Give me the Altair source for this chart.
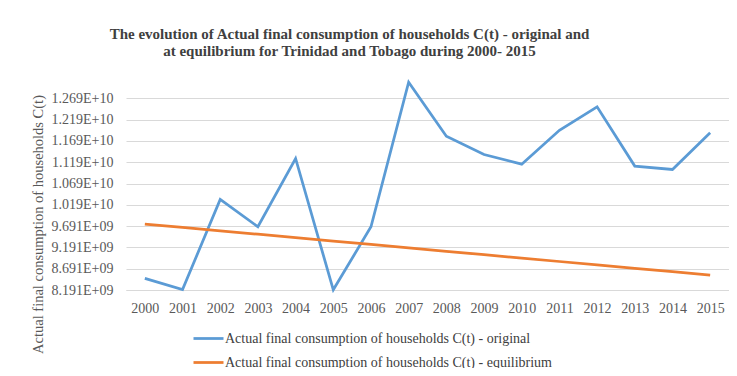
import altair as alt
import pandas as pd

years = [str(y) for y in range(2000, 2016)]
original = [8.465e9, 8.200e9, 10.317e9, 9.675e9, 11.278e9, 8.195e9, 9.675e9, 13.07e9,
            11.80e9, 11.37e9, 11.145e9, 11.94e9, 12.49e9, 11.10e9, 11.02e9, 11.88e9]
equilibrium = [9.74e9, 9.66e9, 9.58e9, 9.50e9, 9.42e9, 9.34e9, 9.26e9, 9.18e9,
               9.10e9, 9.02e9, 8.94e9, 8.86e9, 8.78e9, 8.70e9, 8.62e9, 8.54e9]
series_names = ["Actual final consumption of households C(t) - original",
                "Actual final consumption of households C(t) - equilibrium"]
y_ticks = [8.191e9, 8.691e9, 9.191e9, 9.691e9, 1.019e10, 1.069e10,
           1.119e10, 1.169e10, 1.219e10, 1.269e10]

rows = []
for i, y in enumerate(years):
    rows.append({"year": y, "value": original[i], "series": series_names[0]})
    rows.append({"year": y, "value": equilibrium[i], "series": series_names[1]})
df = pd.DataFrame(rows)

serif = "Liberation Serif"

chart = alt.Chart(df).mark_line(strokeWidth=2.75).encode(
    x=alt.X("year:O", title=None,
            scale=alt.Scale(type="point", padding=0.5),
            axis=alt.Axis(labelAngle=0, ticks=False, domainColor="#D9D9D9",
                          labelFont=serif, labelFontSize=14, labelColor="#595959",
                          labelPadding=11, grid=False)),
    y=alt.Y("value:Q", title="Actual final consumption of households C(t)",
            scale=alt.Scale(domain=[8.191e9, 1.3191e10], nice=False, zero=False),
            axis=alt.Axis(values=y_ticks, ticks=False, domain=False,
                          gridColor="#D9D9D9", gridWidth=1,
                          labelExpr="datum.value >= 1e10 ? replace(format(datum.value, '.3e'), 'e+', 'E+') : replace(format(datum.value, '.3e'), 'e+', 'E+0')",
                          labelFont=serif, labelFontSize=14, labelColor="#595959",
                          labelPadding=13,
                          titleFont=serif, titleFontSize=14.5, titleFontWeight="normal",
                          titleColor="#595959", titleAngle=270, titleAlign="center",
                          titleBaseline="middle", titleX=-88, titleY=147)),
    color=alt.Color("series:N", title=None,
                    scale=alt.Scale(domain=series_names, range=["#5B9BD5", "#ED7D31"]),
                    legend=alt.Legend(orient="none", legendX=66, legendY=245,
                                      direction="vertical", symbolType="stroke",
                                      symbolSize=900, symbolStrokeWidth=2.75,
                                      labelFont=serif, labelFontSize=14,
                                      labelColor="#404040", labelOffset=0,
                                      rowPadding=-11, padding=0, labelLimit=500)),
).properties(
    width=603,
    height=213,
    title=alt.TitleParams(
        text=["The evolution of Actual final consumption  of households C(t) - original  and",
              "at equilibrium  for Trinidad  and Tobago during   2000- 2015"],
        font=serif, fontSize=15, fontWeight="bold", color="#404040",
        anchor="middle", dx=-78, offset=18, lineHeight=17),
    autosize=alt.AutoSizeParams(type="none"),
    padding={"left": 118, "top": 69, "right": 0, "bottom": 78},
).configure_view(stroke=None).configure_title(font=serif)

chart.save("out.html", embed_options={"renderer": "svg", "actions": False})
